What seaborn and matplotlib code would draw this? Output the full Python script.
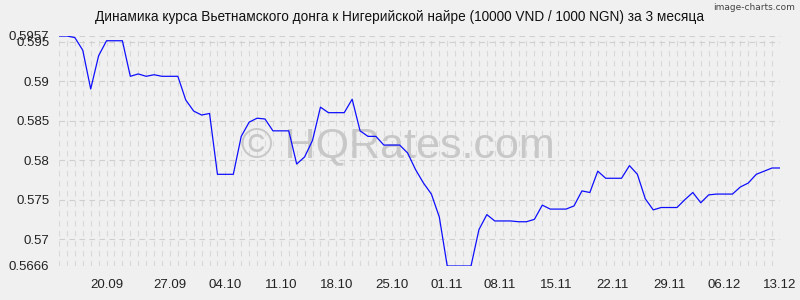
import matplotlib
matplotlib.use("Agg")
import matplotlib.pyplot as plt
import seaborn as sns
import numpy as np
import pandas as pd

# ---- data ----
rates = [
    0.5957, 0.5957, 0.5955, 0.5939, 0.5890, 0.5932, 0.5951, 0.5951, 0.5951, 0.5906,
    0.5909, 0.5906, 0.5908, 0.5906, 0.5906, 0.5906, 0.5876, 0.5862, 0.5857, 0.5859,
    0.5782, 0.5782, 0.5782, 0.5830, 0.5848, 0.5853, 0.5852, 0.5837, 0.5837, 0.5837,
    0.5795, 0.5804, 0.5825, 0.5867, 0.5860, 0.5860, 0.5860, 0.5877, 0.5837, 0.5830,
    0.5830, 0.5819, 0.5819, 0.5819, 0.5809, 0.5788, 0.5771, 0.5757, 0.5728, 0.5666,
    0.5666, 0.5666, 0.5666, 0.5712, 0.5731, 0.5723, 0.5723, 0.5723, 0.5722, 0.5722,
    0.5725, 0.5743, 0.5738, 0.5738, 0.5738, 0.5742, 0.5761, 0.5759, 0.5786, 0.5777,
    0.5777, 0.5777, 0.5793, 0.5782, 0.5751, 0.5737, 0.5740, 0.5740, 0.5740, 0.5750,
    0.5759, 0.5746, 0.5756, 0.5757, 0.5757, 0.5757, 0.5766, 0.5771, 0.5782, 0.5786,
    0.5790, 0.5790,
]
day_index = list(range(len(rates)))
x_tick_labels = ["20.09", "27.09", "04.10", "11.10", "18.10", "25.10", "01.11",
                 "08.11", "15.11", "22.11", "29.11", "06.12", "13.12"]
x_tick_pos = [6, 14, 21, 28, 35, 42, 49, 55.6, 62.8, 69.9, 77, 83.9, 91]
y_ticks = [0.5666, 0.57, 0.575, 0.58, 0.585, 0.59, 0.595, 0.5957]
y_tick_labels = ["0.5666", "0.57", "0.575", "0.58", "0.585", "0.59", "0.595", "0.5957"]
title = "Динамика курса Вьетнамского донга к Нигерийской найре (10000 VND / 1000 NGN) за 3 месяца"

df = pd.DataFrame({"day": day_index, "rate": rates})

sns.set_style("white")
plt.rcParams["font.family"] = ["Liberation Sans", "DejaVu Sans"]

bg = "#f0f0f0"
fig = plt.figure(figsize=(8, 3), dpi=100, facecolor=bg)
ax = fig.add_axes([59 / 800, 1 - 266 / 300, 721 / 800, 230 / 300])
ax.set_facecolor(bg)

# grid
grid_kw = dict(color="#d9d9d9", linewidth=0.8, linestyle=(0, (5, 4)), zorder=1)
for d in day_index:
    ax.axvline(d, **grid_kw)
for yv in y_ticks:
    ax.axhline(yv, color="#cfcfcf", linewidth=0.8, linestyle=(0, (5, 4)), zorder=1)

# watermark
ax.text(0.47, 0.52, "© HQRates.com", transform=ax.transAxes, ha="center", va="center",
        fontsize=31, color="#c4c4c4", alpha=0.9, zorder=2)

sns.lineplot(data=df, x="day", y="rate", ax=ax, color="#0f0fff", linewidth=0.9, zorder=3)

ax.set_xlim(0, len(rates) - 1)
ax.set_ylim(0.5666, 0.5957)
ax.set_xticks(x_tick_pos)
ax.set_xticklabels(x_tick_labels, fontsize=9.5, color="#222222")
ax.set_xticks(day_index, minor=True)
ax.set_yticks(y_ticks)
ax.set_yticklabels(y_tick_labels, fontsize=9.5, color="#222222")
ax.tick_params(axis="y", length=4, color="#cccccc", pad=3)
ax.tick_params(axis="x", which="major", length=0, pad=9)
ax.tick_params(axis="x", which="minor", length=3, color="#dddddd")
ax.set_xlabel("")
ax.set_ylabel("")
for s in ax.spines.values():
    s.set_visible(False)

fig.text(0.5, 1 - 17 / 300, title, ha="center", va="center", fontsize=9.8, color="#111111")
fig.text(795 / 800, 1 - 8 / 300, "image-charts.com", ha="right", va="center",
         fontsize=6.5, color="#444444", family="DejaVu Sans")

fig.savefig("out.png", dpi=100, facecolor=bg)
